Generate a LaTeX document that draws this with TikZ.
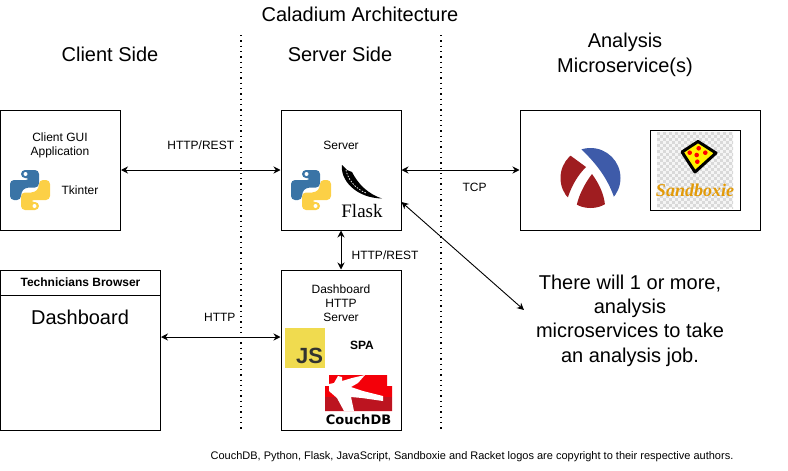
\documentclass[tikz,border=0pt]{standalone}
\usepackage{fontspec}
\setmainfont{Liberation Sans}
\newfontfamily\logoserif{Liberation Serif}
\newfontfamily\logosans{DejaVu Sans}
\usepackage{xcolor}
\usetikzlibrary{arrows.meta}
\definecolor{pyblue}{HTML}{3A74A6}
\definecolor{pyyellow}{HTML}{FCD046}
\definecolor{jsyellow}{HTML}{F0DB4F}
\definecolor{jsdark}{HTML}{323330}
\definecolor{rktred}{HTML}{9F1D20}
\definecolor{rktblue}{HTML}{3E5BA9}
\definecolor{couchred}{HTML}{F40009}
\definecolor{couchdark}{HTML}{BC1420}
\definecolor{boxiegold}{HTML}{E39A06}
\newcommand{\px}[1]{\fontsize{#1}{#1}\selectfont}

\tikzset{
  pics/pylogo/.style={code={
    \fill[pyblue, rounded corners=4pt] (-9,-20) -- (9,-20) -- (9,-2.5) -- (-5,-2.5)
      -- (-9,2) -- (-9,10) -- (-20,10) -- (-20,-10) -- (0,-10) -- (0,-12) -- (-9,-12) -- cycle;
    \fill[white] (-4.5,-16) circle (2);
    \fill[pyyellow, rounded corners=4pt] (9,20) -- (-9,20) -- (-9,2.5) -- (5,2.5)
      -- (9,-2) -- (9,-10) -- (20,-10) -- (20,10) -- (0,10) -- (0,12) -- (9,12) -- cycle;
    \fill[white] (4.5,16) circle (2);
  }}
}

\begin{document}
\begin{tikzpicture}[
  x=1pt, y=-1pt,
  box/.style={draw, line width=1pt, inner sep=0pt},
  lbl/.style={font=\px{12}, align=center, inner sep=0pt},
  head/.style={font=\fontsize{20}{25}\selectfont, align=center, inner sep=0pt},
  big/.style={font=\fontsize{20}{24.4}\selectfont, align=center, inner sep=0pt},
  link/.style={<->, line width=0.9pt},
  sep/.style={line width=1.3pt, dash pattern=on 1.3pt off 4pt},
  >={Stealth[length=7pt,width=7pt]}
]
  \useasboundingbox (0,0) rectangle (788,471);

  % boxes
  \node[box, minimum width=120pt, minimum height=120pt] (client) at (60.5,170) {};
  \node[box, minimum width=120pt, minimum height=120pt] (server) at (341,170) {};
  \node[box, minimum width=240pt, minimum height=120pt] (analysis) at (640,170) {};
  \node[box, minimum width=160pt, minimum height=160pt] (browser) at (80.5,350) {};
  \node[box, minimum width=160pt, minimum height=25pt] (browserhead) at (80.5,282.5)
    {\bfseries\px{12}Technicians Browser};
  \node[box, minimum width=120pt, minimum height=160pt] (dashsrv) at (341,350) {};

  % headings
  \node[head] (title) at (360,14) {Caladium Architecture};
  \node[head] (clienthead) at (110,54) {Client Side};
  \node[head] (serverhead) at (340,54) {Server Side};
  \node[head] (analysishead) at (625,54.5) {Analysis\\Microservice(s)};

  % box texts
  \node[lbl] (clienttxt) at (60,145) {Client GUI\\[2pt]Application};
  \node[lbl] (tkinter) at (80,190) {Tkinter};
  \node[lbl] (servertxt) at (341,145) {Server};
  \node[lbl] (dashtxt) at (341,303) {Dashboard\\[2pt]HTTP\\[2pt]Server};
  \node[lbl, font=\bfseries\px{12}] (spa) at (362,345) {SPA};
  \node[big] (dashboard) at (80,317) {Dashboard};
  \node[big] (note) at (630,320.5) {There will 1 or more,\\analysis\\microservices to take\\an analysis job.};
  \node[font=\px{11}, inner sep=0pt] (footer) at (472,457)
    {CouchDB, Python, Flask, JavaScript, Sandboxie and Racket logos are copyright to their respective authors.};

  % python logos
  \pic at (30,190) {pylogo};
  \pic at (311,190) {pylogo};

  % flask logo
  \fill (342,165) .. controls (340,180) and (356,198) .. (382,198.5)
    .. controls (368,194) and (358,184) .. (352,172) -- (347,170) -- cycle;
  \draw[white, line width=0.7pt, dash pattern=on 1.5pt off 1.5pt] (346,170) .. controls (348,180) and (356,189) .. (366,193);
  \node[font=\logoserif\px{19}, inner sep=0pt] (flask) at (362,211) {Flask};

  % js logo
  \fill[jsyellow] (285,328) rectangle (325,368);
  \node[font=\bfseries\px{22}, text=jsdark, inner sep=0pt] (js) at (309.5,355.5) {JS};

  % couchdb logo
  \fill[couchred] (329,375) -- (387,375) -- (387,386) -- (392,386) -- (392,411) -- (325,411) -- (325,386) -- (329,386) -- cycle;
  \fill[couchdark] (325,397) rectangle (392,411);
  \fill[white] (329,384) -- (334,383) -- (338,376) -- (342,377) -- (342,381) -- (352,378) -- (365,375)
    -- (358,383) -- (351,387) -- (363,391) -- (383,396) -- (383,401) -- (362,398) -- (351,397)
    -- (354,411) -- (344,411) -- (337,398) -- (329,391) -- cycle;
  \node[font=\logosans\bfseries\px{13}, inner sep=0pt] (couch) at (358.5,419.5) {CouchDB};

  % racket logo
  \begin{scope}
    \clip (590.5,178) circle (30);
    \fill[rktblue] (578,147) -- (625,147) -- (625,200) -- (614,197)
      .. controls (608,180) and (598,165) .. (581,149) -- cycle;
    \fill[rktred] (558,150) -- (571,156) -- (586,167) .. controls (578,175) and (572,185) .. (568,197)
      -- (558,200) -- cycle;
    \fill[rktred] (592,174) .. controls (600,185) and (604,195) .. (605,205) -- (605,212) -- (576,212)
      -- (577,204) .. controls (579,195) and (585,183) .. (592,174) -- cycle;
  \end{scope}

  % sandboxie logo
  \node[box, minimum width=90pt, minimum height=80pt] (sandbox) at (695,170) {};
  \begin{scope}
    \clip (657,132) rectangle (733,208);
    \fill[black!4] (657,132) rectangle (733,208);
    \foreach \i in {0,...,25} {
      \foreach \j in {0,...,25} {
        \pgfmathparse{int(mod(\i+\j,2))}
        \ifnum\pgfmathresult=0
          \fill[black!15] (657+\i*3,132+\j*3) rectangle ++(3,3);
        \fi
      }
    }
  \end{scope}
  \draw[line width=3pt, line join=round, fill=yellow] (682,152) -- (698,141.5) -- (716,153) -- (695,172) -- cycle;
  \foreach \dotx/\doty in {689.7/152.7,698.7/148.3,696.7/155,705.3/152.7,697.3/161.7}
    \fill[red] (\dotx,\doty) circle (2.3);
  \node[font=\logoserif\bfseries\itshape\px{18}, text=boxiegold, inner sep=0pt] (sandboxie) at (695,190) {Sandboxie};

  % separators
  \coordinate (sepa) at (241,35);
  \coordinate (sepb) at (241,430);
  \coordinate (sepc) at (441,35);
  \coordinate (sepd) at (441,430);
  \draw[sep] (sepa) -- (sepb);
  \draw[sep] (sepc) -- (sepd);

  % connectors
  \draw[link] (client) -- (server) node[pos=0.5, lbl, yshift=25pt] (restlbl) {HTTP/REST};
  \draw[link] (server) -- (analysis) node[pos=0.62, lbl, yshift=-17pt] (tcplbl) {TCP};
  \draw[link] (server) -- (dashsrv) node[midway, lbl, xshift=44pt, yshift=-5pt] (dashlbl) {HTTP/REST};
  \draw[link] ([yshift=13pt]browser.east) -- ([yshift=13pt]dashsrv.west)
    node[midway, lbl, xshift=-1pt, yshift=20pt] (httplbl) {HTTP};
  \coordinate (noteend) at (524,310);
  \draw[link] ([yshift=-32pt]server.east) -- (noteend);
\end{tikzpicture}
\end{document}
